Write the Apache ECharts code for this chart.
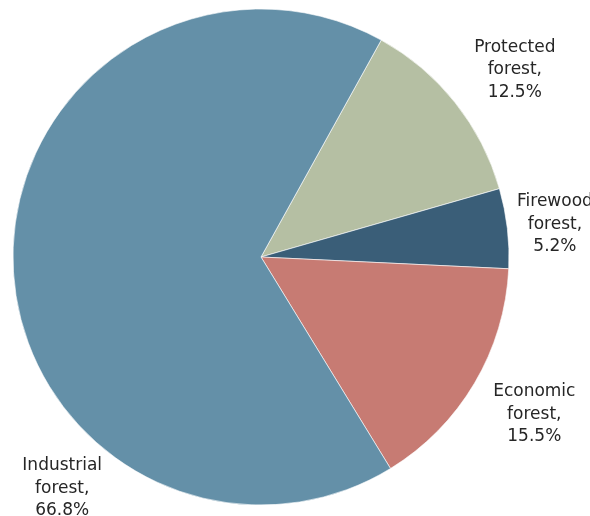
<!DOCTYPE html>
<html>
<head>
<meta charset="utf-8">
<script src="https://cdn.jsdelivr.net/npm/echarts@6/dist/echarts.min.js"></script>
<style>
  html, body { margin: 0; padding: 0; background: #ffffff; }
  #chart { width: 590px; height: 516px; }
</style>
</head>
<body>
<div id="chart"></div>
<script>
// Forest area by category (share of total, %)
const categories = ['Protected forest', 'Firewood forest', 'Economic forest', 'Industrial forest'];
const shares = [12.5, 5.2, 15.5, 66.8];
const colors = ['#b5bfa3', '#3a5e78', '#c77b73', '#6490a8'];

// Pie geometry
const CX = 261, CY = 257, R = 248, START = 61;
// Label placement: distance from centre and angle (degrees)
const labelDist = [317, 296, 314, 303];
const labelAngle = [36.8, 6.8, -29.5, -131];
const labelDy = 2.5;

const chart = echarts.init(document.getElementById('chart'), null, { renderer: 'canvas' });

const data = categories.map((name, i) => ({
  name,
  value: shares[i],
  itemStyle: { color: colors[i] }
}));

chart.setOption({
  animation: false,
  series: [{
    type: 'pie',
    center: [CX, CY],
    radius: [0, R],
    startAngle: START,
    clockwise: true,
    avoidLabelOverlap: false,
    minShowLabelAngle: 0,
    data,
    itemStyle: { borderColor: '#ffffff', borderWidth: 0.6 },
    label: {
      show: true,
      position: 'outside',
      alignTo: 'none',
      overflow: 'none',
      formatter: p => {
        const parts = p.name.split(' ');
        return parts[0] + '\n' + parts[1] + ',\n' + p.value.toFixed(1) + '%';
      },
      fontFamily: 'DejaVu Sans',
      fontSize: 17,
      lineHeight: 22.5,
      color: '#262626',
      align: 'center'
    },
    labelLine: { show: false },
    labelLayout: params => {
      const i = params.dataIndex;
      const a = labelAngle[i] * Math.PI / 180;
      return {
        x: CX + labelDist[i] * Math.cos(a),
        y: CY - labelDist[i] * Math.sin(a) + labelDy,
        align: 'center',
        verticalAlign: 'middle',
        hideOverlap: false
      };
    }
  }]
});
</script>
</body>
</html>
